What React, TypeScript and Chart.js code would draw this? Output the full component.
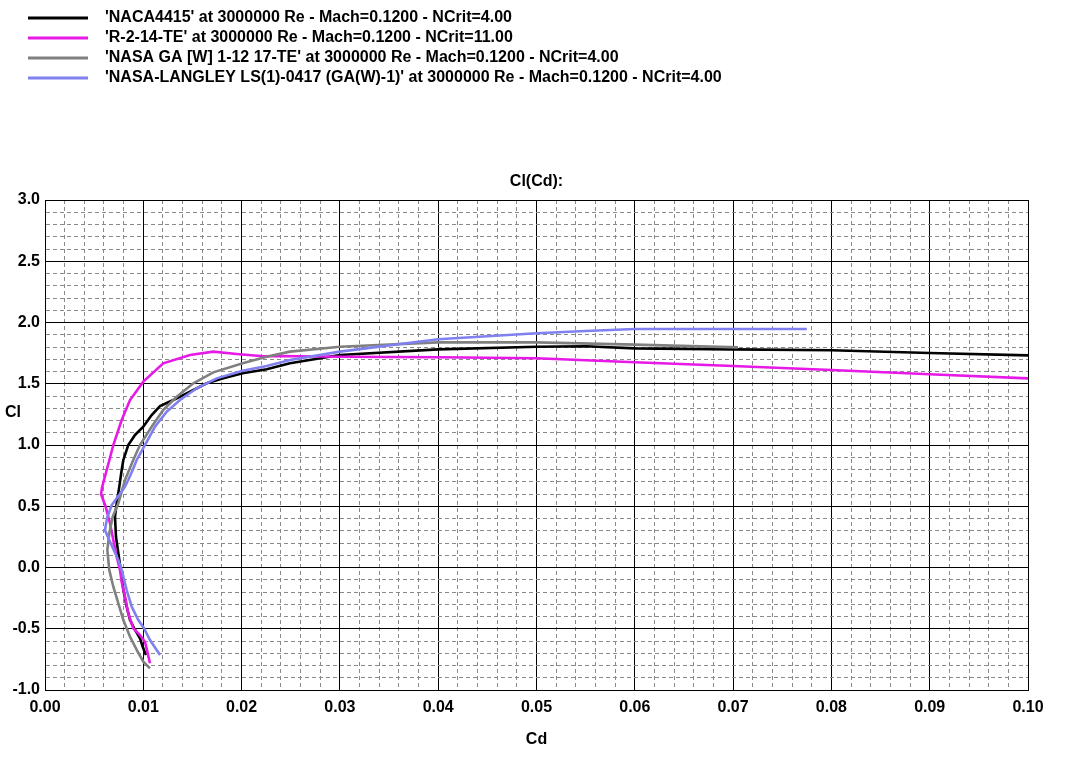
import React, { useEffect, useRef } from "react";
import { Chart, registerables } from "chart.js";

Chart.register(...registerables);

const FONT_FAMILY = "'Liberation Sans', Arial, Helvetica, sans-serif";

const seriesNames = [
  "'NACA4415' at 3000000 Re - Mach=0.1200 - NCrit=4.00",
  "'R-2-14-TE' at 3000000 Re - Mach=0.1200 - NCrit=11.00",
  "'NASA GA [W] 1-12 17-TE' at 3000000 Re - Mach=0.1200 - NCrit=4.00",
  "'NASA-LANGLEY LS(1)-0417 (GA(W)-1)' at 3000000 Re - Mach=0.1200 - NCrit=4.00",
];
const seriesColors = ["#000000", "#e619e6", "#808080", "#8080f0"];

// NACA4415
const naca4415Cd = [
  0.01027, 0.00994, 0.00966, 0.00916, 0.00865, 0.00831, 0.00797, 0.0077, 0.00746, 0.00722,
  0.00712, 0.00729, 0.00756, 0.0078, 0.00797, 0.00847, 0.00916, 0.01, 0.01085, 0.0117,
  0.01305, 0.01475, 0.01645, 0.01814, 0.02011, 0.02255, 0.02492, 0.03, 0.04, 0.05,
  0.055, 0.06, 0.07, 0.08, 0.09, 0.1,
];
const naca4415Cl = [
  -0.714, -0.647, -0.578, -0.51, -0.429, -0.32, -0.184, -0.02, 0.116, 0.251,
  0.415, 0.524, 0.66, 0.796, 0.878, 1.0, 1.082, 1.149, 1.245, 1.318,
  1.367, 1.435, 1.504, 1.544, 1.585, 1.618, 1.667, 1.735, 1.781, 1.802,
  1.806, 1.789, 1.781, 1.773, 1.751, 1.732,
];

// R-2-14-TE
const r214Cd = [
  0.01068, 0.01041, 0.01017, 0.00966, 0.00898, 0.00847, 0.00814, 0.0078, 0.00763, 0.00729,
  0.00695, 0.00661, 0.00617, 0.0057, 0.0058, 0.006, 0.00628, 0.00695, 0.0078, 0.00865,
  0.01, 0.01203, 0.01475, 0.01712, 0.0195, 0.02221, 0.02391, 0.03, 0.04, 0.05,
  0.06, 0.07, 0.08, 0.09, 0.1,
];
const r214Cl = [
  -0.782, -0.687, -0.606, -0.551, -0.496, -0.374, -0.238, -0.116, -0.02, 0.088,
  0.224, 0.361, 0.496, 0.6, 0.65, 0.714, 0.796, 1.0, 1.204, 1.367,
  1.517, 1.667, 1.735, 1.762, 1.743, 1.724, 1.727, 1.721, 1.716, 1.708,
  1.675, 1.645, 1.612, 1.577, 1.544,
];

// NASA GA [W] 1-12 17-TE
const nasaGaCd = [
  0.01068, 0.01, 0.00933, 0.00865, 0.00797, 0.00746, 0.00695, 0.00654, 0.00634, 0.00654,
  0.00689, 0.00746, 0.00814, 0.00898, 0.00966, 0.01085, 0.01203, 0.0134, 0.01509, 0.01712,
  0.02011, 0.02255, 0.02492, 0.03, 0.04, 0.05, 0.06, 0.0705,
];
const nasaGaCl = [
  -0.823, -0.769, -0.673, -0.565, -0.429, -0.292, -0.157, -0.02, 0.143, 0.279,
  0.415, 0.524, 0.714, 0.878, 1.0, 1.149, 1.286, 1.394, 1.504, 1.593,
  1.667, 1.721, 1.762, 1.802, 1.838, 1.838, 1.819, 1.797,
];

// NASA-LANGLEY LS(1)-0417 (GA(W)-1)
const lsCd = [
  0.0117, 0.01068, 0.01007, 0.00949, 0.00882, 0.00831, 0.0078, 0.00746, 0.00661, 0.0061,
  0.00631, 0.00679, 0.00729, 0.00814, 0.00847, 0.00892, 0.00933, 0.01017, 0.01119, 0.01238,
  0.01373, 0.01543, 0.01747, 0.02011, 0.02255, 0.02492, 0.03, 0.04, 0.05, 0.055,
  0.06, 0.07, 0.0775,
];
const lsCl = [
  -0.714, -0.592, -0.496, -0.429, -0.32, -0.184, -0.02, 0.061, 0.211, 0.306,
  0.404, 0.51, 0.565, 0.66, 0.714, 0.796, 0.878, 1.0, 1.149, 1.272,
  1.367, 1.463, 1.544, 1.607, 1.645, 1.694, 1.762, 1.863, 1.912, 1.93,
  1.947, 1.947, 1.947,
];

const seriesCd = [naca4415Cd, r214Cd, nasaGaCd, lsCd];
const seriesCl = [naca4415Cl, r214Cl, nasaGaCl, lsCl];

const xMin = 0;
const xMax = 0.1;
const xStep = 0.002;
const yMin = -1;
const yMax = 3;
const yStep = 0.1;

const isMajorX = (v: number) => Math.round(v * 500) % 5 === 0;
const isMajorY = (v: number) => Math.round(v * 10) % 5 === 0;

const tickFont = { family: FONT_FAMILY, size: 16, weight: "bold" as const };

const overlayPlugin = {
  id: "overlay",
  afterDraw(chart: any) {
    const ctx = chart.ctx as CanvasRenderingContext2D;
    const ca = chart.chartArea;
    ctx.save();
    ctx.font = `bold 16px ${FONT_FAMILY}`;
    ctx.fillStyle = "#000";
    ctx.textBaseline = "middle";
    ctx.textAlign = "left";
    seriesNames.forEach((name, i) => {
      const y = 18 + i * 20;
      ctx.strokeStyle = seriesColors[i];
      ctx.lineWidth = 3;
      ctx.beginPath();
      ctx.moveTo(28, y);
      ctx.lineTo(88, y);
      ctx.stroke();
      ctx.fillText(name, 105, y);
    });
    ctx.textAlign = "center";
    ctx.fillText("Cl(Cd):", (ca.left + ca.right) / 2, 182);
    ctx.fillText("Cl", 13, 413);
    ctx.restore();
  },
};

export default function App() {
  const canvasRef = useRef<HTMLCanvasElement | null>(null);

  useEffect(() => {
    document.body.style.margin = "0";
    document.body.style.overflow = "hidden";
    const canvas = canvasRef.current;
    if (!canvas) return;

    const datasets = seriesNames.map((name, i) => ({
      label: name,
      data: seriesCd[i].map((cd, j) => ({ x: cd, y: seriesCl[i][j] })),
      borderColor: seriesColors[i],
      backgroundColor: seriesColors[i],
      borderWidth: 2.6,
      pointRadius: 0,
      showLine: true,
      fill: false,
      tension: 0,
      order: 3 - i,
    }));

    const chart = new Chart(canvas, {
      type: "scatter",
      data: { datasets },
      plugins: [overlayPlugin],
      options: {
        animation: false,
        responsive: true,
        maintainAspectRatio: false,
        layout: { padding: { top: 200, left: 12, right: 51, bottom: 0 } },
        plugins: {
          legend: { display: false },
          title: { display: false },
          tooltip: { enabled: false },
        },
        scales: {
          x: {
            type: "linear",
            min: xMin,
            max: xMax,
            afterFit: (s: any) => {
              s.height = 67;
            },
            ticks: {
              stepSize: xStep,
              autoSkip: false,
              maxRotation: 0,
              minRotation: 0,
              padding: 8,
              color: "#000",
              font: tickFont,
              callback: (v: any) => (isMajorX(Number(v)) ? Number(v).toFixed(2) : ""),
            },
            grid: {
              drawTicks: false,
              lineWidth: 1,
              color: (c: any) =>
                c.tick && !isMajorX(c.tick.value) ? "#8a8a8a" : "#000000",
            },
            border: {
              display: true,
              color: "#000",
              width: 1,
              dash: (c: any) => (c.tick && !isMajorX(c.tick.value) ? [4, 3] : []),
            },
            title: {
              display: true,
              text: "Cd",
              color: "#000",
              font: tickFont,
              padding: { top: 0, bottom: 8 },
            },
          },
          y: {
            type: "linear",
            min: yMin,
            max: yMax,
            afterFit: (s: any) => {
              s.width = 33;
            },
            ticks: {
              stepSize: yStep,
              autoSkip: false,
              padding: 5,
              color: "#000",
              font: tickFont,
              callback: (v: any) => (isMajorY(Number(v)) ? Number(v).toFixed(1) : ""),
            },
            grid: {
              drawTicks: false,
              lineWidth: 1,
              color: (c: any) =>
                c.tick && !isMajorY(c.tick.value) ? "#8a8a8a" : "#000000",
            },
            border: {
              display: true,
              color: "#000",
              width: 1,
              dash: (c: any) => (c.tick && !isMajorY(c.tick.value) ? [4, 3] : []),
            },
          },
        },
      },
    });

    return () => {
      chart.destroy();
    };
  }, []);

  return (
    <div style={{ width: 1079, height: 757, position: "relative", background: "#fff" }}>
      <canvas ref={canvasRef} />
    </div>
  );
}
